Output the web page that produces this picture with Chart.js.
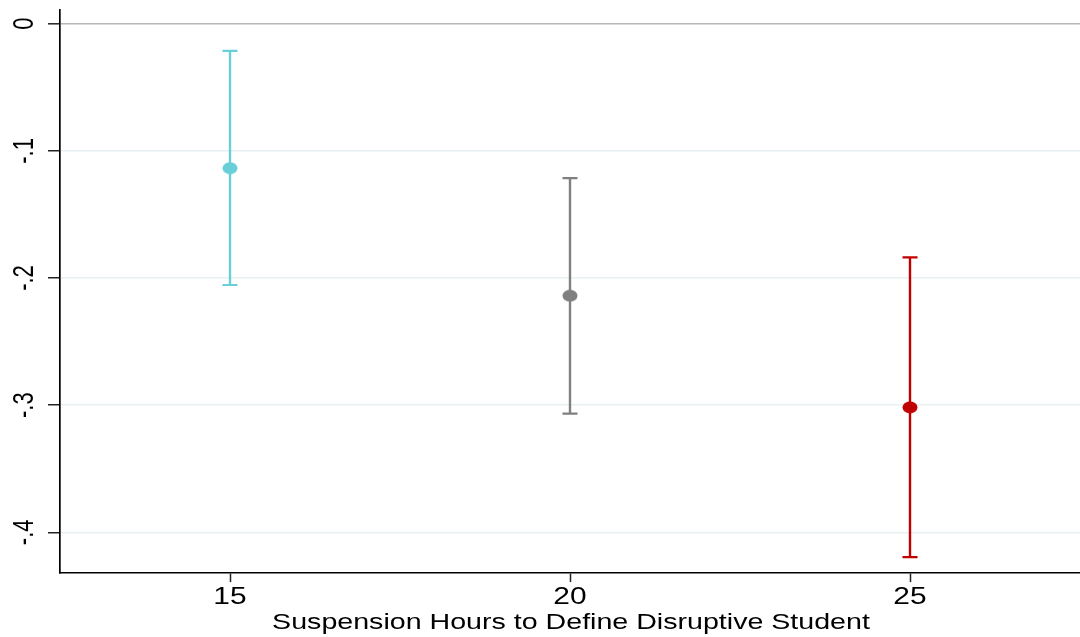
<!DOCTYPE html>
<html>
<head>
<meta charset="utf-8">
<script src="https://cdn.jsdelivr.net/npm/chart.js@4.4.0/dist/chart.umd.min.js"></script>
<style>
  html, body { margin: 0; padding: 0; background: #fff; }
  canvas { display: block; }
</style>
</head>
<body>
<canvas id="c" width="1080" height="637"></canvas>
<script>
// ---- Data ----
const hours = [15, 20, 25];
const estimates = [-0.1136, -0.2139, -0.3017];
const ciLower = [-0.2055, -0.3066, -0.4195];
const ciUpper = [-0.0214, -0.1214, -0.1838];
const pointColors = ['rgb(104,207,217)', 'rgb(128,128,128)', 'rgb(192,0,0)'];
const xTicks = [15, 20, 25];
const xTickLabels = ['15', '20', '25'];
const yTicks = [0, -0.1, -0.2, -0.3, -0.4];
const yTickLabels = ['0', '-.1', '-.2', '-.3', '-.4'];
const xTitle = 'Suspension Hours to Define Disruptive Student';

const STRETCH = 1.3;
const FONT = '"Liberation Sans", Arial, Helvetica, sans-serif';

function ellipseMarker(color) {
  const c = document.createElement('canvas');
  c.width = 16; c.height = 13;
  const g = c.getContext('2d');
  g.fillStyle = color;
  g.beginPath();
  g.ellipse(8, 6.5, 7.5, 6, 0, 0, Math.PI * 2);
  g.fill();
  return c;
}

const errorBars = {
  id: 'errorBars',
  beforeDatasetsDraw(chart) {
    const ctx = chart.ctx;
    const xs = chart.scales.x, ys = chart.scales.y;
    ctx.save();
    hours.forEach((h, i) => {
      const x = xs.getPixelForValue(h);
      const yLo = ys.getPixelForValue(ciLower[i]);
      const yHi = ys.getPixelForValue(ciUpper[i]);
      ctx.strokeStyle = pointColors[i];
      ctx.lineWidth = 2.4;
      ctx.beginPath();
      ctx.moveTo(x, yHi); ctx.lineTo(x, yLo);
      ctx.stroke();
      ctx.lineWidth = 2.2;
      ctx.beginPath();
      ctx.moveTo(x - 7.5, yHi); ctx.lineTo(x + 7.5, yHi);
      ctx.moveTo(x - 7.5, yLo); ctx.lineTo(x + 7.5, yLo);
      ctx.stroke();
    });
    ctx.restore();
  }
};

const axisText = {
  id: 'axisText',
  afterDraw(chart) {
    const ctx = chart.ctx;
    const xs = chart.scales.x, ys = chart.scales.y;
    const area = chart.chartArea;
    ctx.save();
    ctx.fillStyle = '#000';
    // x tick labels
    ctx.font = '23px ' + FONT;
    ctx.textAlign = 'center';
    ctx.textBaseline = 'alphabetic';
    xTicks.forEach((v, i) => {
      const x = xs.getPixelForValue(v);
      ctx.save();
      ctx.translate(x, 604);
      ctx.scale(STRETCH, 1);
      ctx.fillText(xTickLabels[i], 0, 0);
      ctx.restore();
    });
    // y tick labels (rotated)
    ctx.font = '22px ' + FONT;
    yTicks.forEach((v, i) => {
      const y = ys.getPixelForValue(v);
      ctx.save();
      ctx.translate(33, y);
      ctx.scale(STRETCH, 1);
      ctx.rotate(-Math.PI / 2);
      ctx.fillText(yTickLabels[i], 0, 0);
      ctx.restore();
    });
    // x title
    ctx.font = '22px ' + FONT;
    ctx.save();
    ctx.translate((area.left + area.right) / 2 + 1, 629);
    ctx.scale(STRETCH, 1);
    ctx.fillText(xTitle, 0, 0);
    ctx.restore();
    ctx.restore();
  }
};

new Chart(document.getElementById('c'), {
  type: 'scatter',
  data: {
    datasets: [{
      data: hours.map((h, i) => ({ x: h, y: estimates[i] })),
      pointStyle: pointColors.map(ellipseMarker),
      backgroundColor: pointColors,
      borderColor: pointColors,
      pointRadius: 7
    }]
  },
  options: {
    responsive: false,
    devicePixelRatio: 1,
    animation: false,
    events: [],
    layout: { autoPadding: false, padding: { top: 10, left: 0, right: 0, bottom: 0 } },
    plugins: { legend: { display: false }, tooltip: { enabled: false }, title: { display: false } },
    scales: {
      x: {
        type: 'linear',
        min: 12.5,
        max: 27.5,
        afterBuildTicks(scale) { scale.ticks = xTicks.map(v => ({ value: v })); },
        afterFit(scale) { scale.height = 64; },
        ticks: { display: false, autoSkip: false },
        grid: { drawOnChartArea: false, drawTicks: true, tickLength: 9, tickColor: '#222', tickWidth: 1.5 },
        border: { display: true, color: '#000', width: 1.6 }
      },
      y: {
        type: 'linear',
        min: -0.432,
        max: 0.0108,
        afterBuildTicks(scale) { scale.ticks = yTicks.map(v => ({ value: v })); },
        afterFit(scale) { scale.width = 60; },
        ticks: { display: false, autoSkip: false },
        grid: {
          drawOnChartArea: true,
          drawTicks: true,
          tickLength: 12,
          tickColor: '#222',
          tickWidth: 1.5,
          color: ctx => (ctx.tick && ctx.tick.value === 0) ? '#b8b8b8' : '#e7f0f2',
          lineWidth: ctx => (ctx.tick && ctx.tick.value === 0) ? 1.6 : 1.5
        },
        border: { display: true, color: '#000', width: 1.7 }
      }
    }
  },
  plugins: [errorBars, axisText]
});
</script>
</body>
</html>
